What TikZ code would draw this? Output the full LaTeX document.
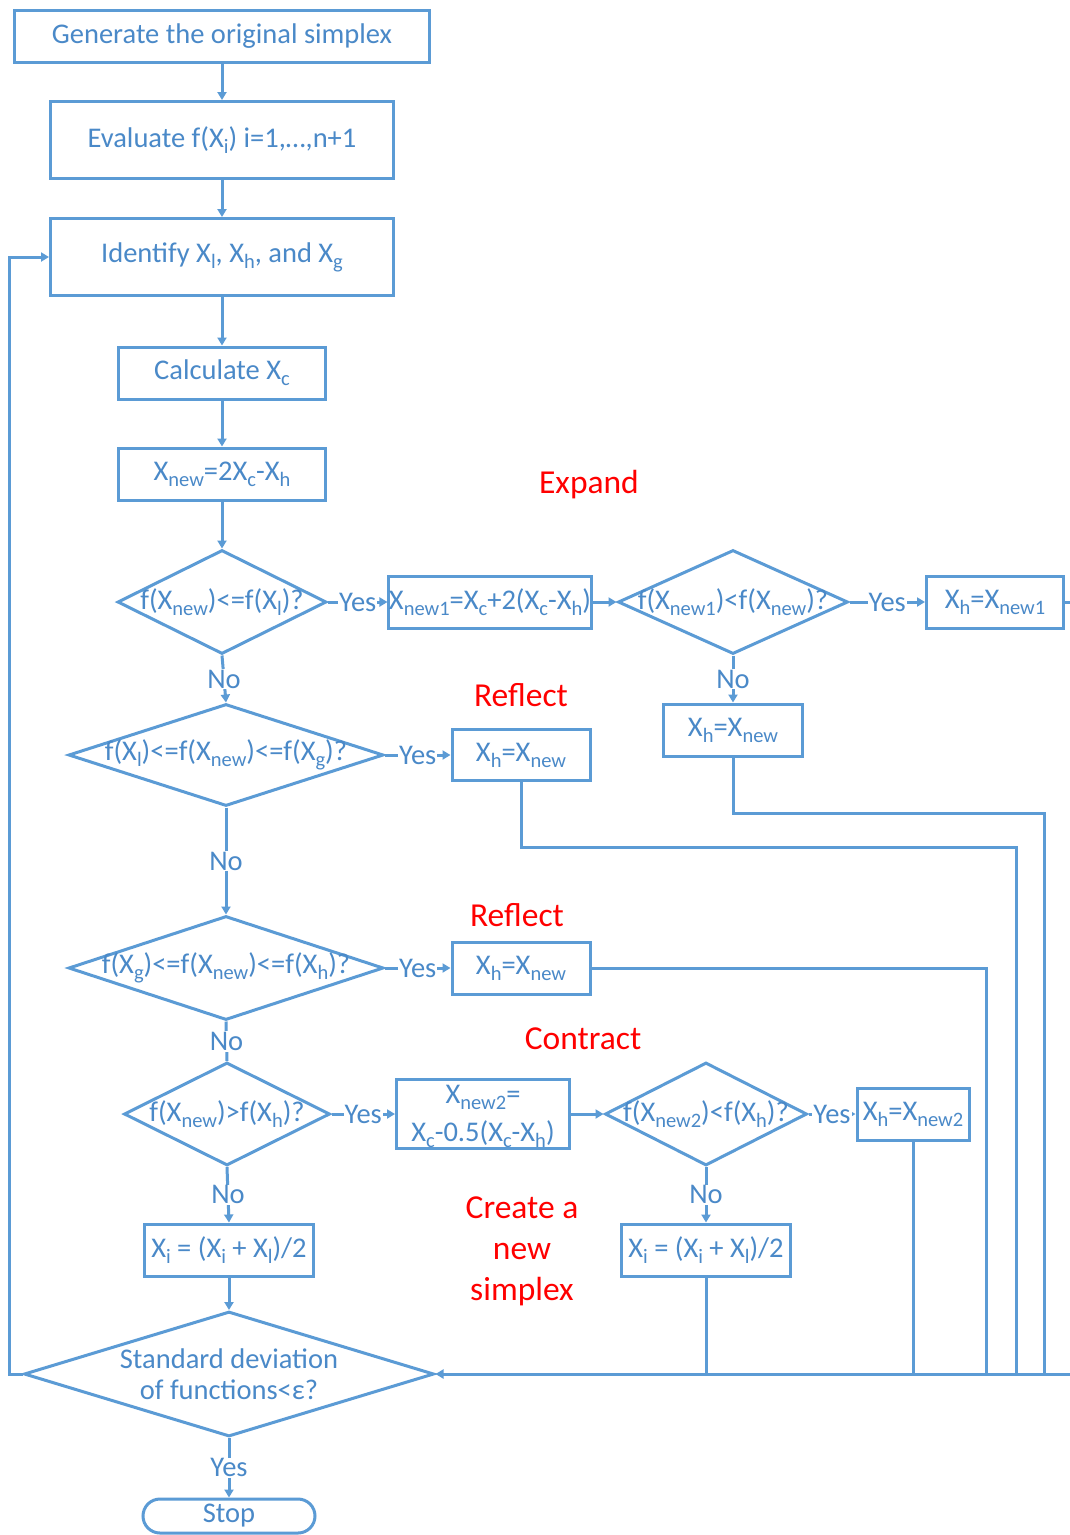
\documentclass[tikz,border=0pt]{standalone}
\usepackage{fontspec}
\setmainfont{Carlito}
\usetikzlibrary{shapes.geometric,arrows.meta}
\definecolor{fc}{HTML}{5B9BD5}
\definecolor{tc}{HTML}{4A89C8}
\definecolor{rc}{HTML}{FF0000}
\newcommand\mainfs{\fontsize{28.5}{34}\selectfont}
\newcommand\redfs{\fontsize{33.5}{40}\selectfont}
\newcommand\lo[1]{\raisebox{-6pt}{\fontsize{20.5}{21}\selectfont #1}}
\tikzset{
  base/.style={draw=fc, line width=3pt, text=tc, font=\mainfs, inner sep=0pt, fill=white},
  box/.style={base, rectangle},
  dia/.style={base, diamond},
  lbl/.style={text=tc, font=\mainfs, inner sep=0pt, align=center},
  yn/.style={text=tc, font=\mainfs, fill=white, inner sep=1pt},
  redlbl/.style={text=rc, font=\redfs, align=center},
  ln/.style={draw=fc, line width=3pt},
  arr/.style={ln, -{Triangle[length=8pt,width=9pt]}},
}
\begin{document}
\begin{tikzpicture}[x=1pt,y=-1pt]
\useasboundingbox (0,0) rectangle (1070,1535);
\clip (0,0) rectangle (1070,1535);
\fill[white] (0,0) rectangle (1070,1535);

% boxes
\node[box, minimum width=415, minimum height=52] (b1) at (222,36) {Generate the original simplex};
\node[box, minimum width=343, minimum height=77] (b2) at (222,140) {Evaluate f(X\lo{i}) i=1,…,n+1};
\node[box, minimum width=343, minimum height=77] (b3) at (222,257) {Identify X\lo{l}, X\lo{h}, and X\lo{g}};
\node[box, minimum width=207, minimum height=52] (b4) at (222,373) {Calculate X\lo{c}};
\node[box, minimum width=207, minimum height=52] (b5) at (222,474) {X\lo{new}=2X\lo{c}-X\lo{h}};

% diamond 6
\node[dia, minimum width=209, minimum height=104] (d6) at (222,602) {};
\node[lbl] at (d6) {f(X\lo{new})<=f(X\lo{l})?};

\node[box, minimum width=201, minimum height=52] (b7) at (490,602) {X\lo{new1}=X\lo{c}+2(X\lo{c}-X\lo{h})};

\node[dia, minimum width=230, minimum height=104] (d8) at (733,602) {};
\node[lbl] at (d8) {f(X\lo{new1})<f(X\lo{new})?};

\node[box, minimum width=137, minimum height=52] (b9) at (995,602) {X\lo{h}=X\lo{new1}};
\node[box, minimum width=139, minimum height=52] (b10) at (733,730) {X\lo{h}=X\lo{new}};

\node[dia, minimum width=315, minimum height=102] (d11) at (226,755) {};
\node[lbl] at (d11) {f(X\lo{l})<=f(X\lo{new})<=f(X\lo{g})?};
\node[box, minimum width=138, minimum height=51] (b12) at (521,755) {X\lo{h}=X\lo{new}};

\node[dia, minimum width=315, minimum height=104] (d13) at (226,968) {};
\node[lbl] at (d13) {f(X\lo{g})<=f(X\lo{new})<=f(X\lo{h})?};
\node[box, minimum width=138, minimum height=52] (b14) at (521,968) {X\lo{h}=X\lo{new}};

\node[dia, minimum width=206, minimum height=103] (d15) at (227,1114) {};
\node[lbl] at (d15) {f(X\lo{new})>f(X\lo{h})?};
\node[box, minimum width=173, minimum height=69] (b16) at (483,1114) {};
\node[lbl] at (483,1097) {X\lo{new2}=};
\node[lbl] at (483,1134) {X\lo{c}-0.5(X\lo{c}-X\lo{h})};

\node[dia, minimum width=202, minimum height=103] (d17) at (706,1114) {};
\node[lbl] at (d17) {f(X\lo{new2})<f(X\lo{h})?};
\node[box, minimum width=112, minimum height=52] (b18) at (913,1114) {X\lo{h}=X\lo{new2}};

\node[box, minimum width=169, minimum height=52] (b19) at (229,1250) {X\lo{i} = (X\lo{i} + X\lo{l})/2};
\node[box, minimum width=169, minimum height=52] (b20) at (706,1250) {X\lo{i} = (X\lo{i} + X\lo{l})/2};

\node[dia, minimum width=410, minimum height=125] (d21) at (229,1374) {};
\node[lbl, font=\fontsize{28.5}{31}\selectfont] at (229,1374) {Standard deviation\\of functions<ε?};

\node[box, rounded corners=17pt, minimum width=172, minimum height=34] (b22) at (229,1516) {Stop};

% red labels
\node[redlbl] (r1) at (589,485) {Expand};
\node[redlbl] (r2) at (521,695) {Reflect};
\node[redlbl] (r3) at (517,915) {Reflect};
\node[redlbl] (r4) at (583,1039) {Contract};
\node[redlbl, font=\fontsize{33.5}{41}\selectfont] (r5) at (522,1251) {Create a\\new\\simplex};

% main column
\draw[arr] (b1) -- (b2);
\draw[arr] (b2) -- (b3);
\draw[arr] (b3) -- (b4);
\draw[arr] (b4) -- (b5);
\draw[arr] (b5) -- (d6);

\draw[arr] (d6.east) -- node[yn]{Yes} (b7.west);
\draw[arr] (b7.east) -- (d8.west);
\draw[arr] (d8.east) -- node[yn]{Yes} (b9.west);
\draw[arr] (d8.south) -- node[yn]{No} (b10.north);

\draw[arr] (d6.south) -- node[yn]{No} (d11.north);
\draw[arr] (d11.east) -- node[yn]{Yes} (b12.west);
\draw[arr] (d11.south) -- node[yn]{No} (d13.north);
\draw[arr] (d13.east) -- node[yn]{Yes} (b14.west);
\draw[ln] (d13.south) -- node[yn]{No} (d15.north);
\draw[arr] (d15.east) -- node[yn]{Yes} (b16.west);
\draw[arr] (b16.east) -- (d17.west);
\draw[arr] (d17.east) -- node[yn]{Yes} (b18.west);
\draw[arr] (d17.south) -- node[yn]{No} (b20.north);
\draw[arr] (d15.south) -- node[yn]{No} (b19.north);
\draw[arr] (b19.south) -- (d21.north);
\draw[arr] (d21.south) -- node[yn]{Yes} (b22.north);

% return lines to the collector at y=1374
\coordinate (cr) at (1085,1374);
\draw[ln] (b9.east) -- (1085,602) -- (cr);
\draw[ln] (b10.south) -- (733,813) -- (1044,813) -- (1044,1374);
\draw[ln] (b12.south) -- (521,847) -- (1016,847) -- (1016,1374);
\draw[ln] (b14.east) -- (986,968) -- (986,1374);
\draw[ln] (b18.south) -- (913,1374);
\draw[ln] (b20.south) -- (706,1374);
\draw[arr] (cr) -- (d21.east);

% loop back
\draw[arr] (d21.west) -- (9,1374) -- (9,257) -- (b3.west);
\end{tikzpicture}
\end{document}
